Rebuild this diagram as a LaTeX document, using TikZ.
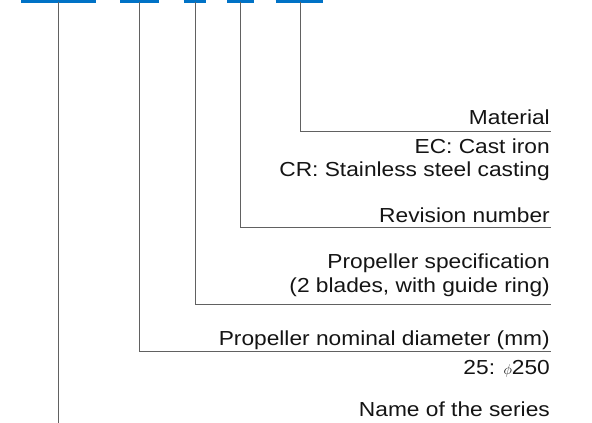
\documentclass[tikz,border=0pt]{standalone}
\usepackage{fontspec}
\setmainfont{Liberation Sans}[FakeStretch=1.12]
\definecolor{codeblue}{RGB}{0,114,198}
\tikzset{
  lab/.style={anchor=base east, inner sep=0pt, font=\fontsize{20.3}{24}\selectfont, text=black!92},
  leader/.style={draw=black!62, line width=1pt},
  codebar/.style={draw=codeblue, line width=3pt}
}
\begin{document}
\begin{tikzpicture}[x=1pt,y=-1pt]
\useasboundingbox (0,0) rectangle (592,423);
% code bars
\draw[codebar] (21,1.5) -- (95.7,1.5);
\draw[codebar] (120,1.5) -- (159,1.5);
\draw[codebar] (183.7,1.5) -- (206.3,1.5);
\draw[codebar] (227,1.5) -- (254.3,1.5);
\draw[codebar] (275.7,1.5) -- (323.3,1.5);
\coordinate (b1) at (58.3,1.5);
\coordinate (b2) at (139.7,1.5);
\coordinate (b3) at (195,1.5);
\coordinate (b4) at (240.3,1.5);
\coordinate (b5) at (300,1.5);
% leader ends
\coordinate (e5) at (551,131);
\coordinate (e4) at (551,227.5);
\coordinate (e3) at (551,304);
\coordinate (e2) at (551,351);
\coordinate (e1) at (58.3,423);
% labels
\node[lab] (mat) at (550,124.5) {Material};
\node[lab] (ec) at (550,153) {EC: Cast iron};
\node[lab] (cr) at (550,176) {CR: Stainless steel casting};
\node[lab] (rev) at (550,222) {Revision number};
\node[lab] (spec1) at (550,268) {Propeller specification};
\node[lab] (spec2) at (550,292) {(2 blades, with guide ring)};
\node[lab] (diam) at (550,345) {Propeller nominal diameter (mm)};
\node[lab] (d25) at (550,374) {25: {\fontsize{15}{15}\selectfont$\phi$}250};
\node[lab] (series) at (550,416) {Name of the series};
% leaders
\draw[leader] (b5) |- (e5);
\draw[leader] (b4) |- (e4);
\draw[leader] (b3) |- (e3);
\draw[leader] (b2) |- (e2);
\draw[leader] (b1) -- (e1);
\end{tikzpicture}
\end{document}
